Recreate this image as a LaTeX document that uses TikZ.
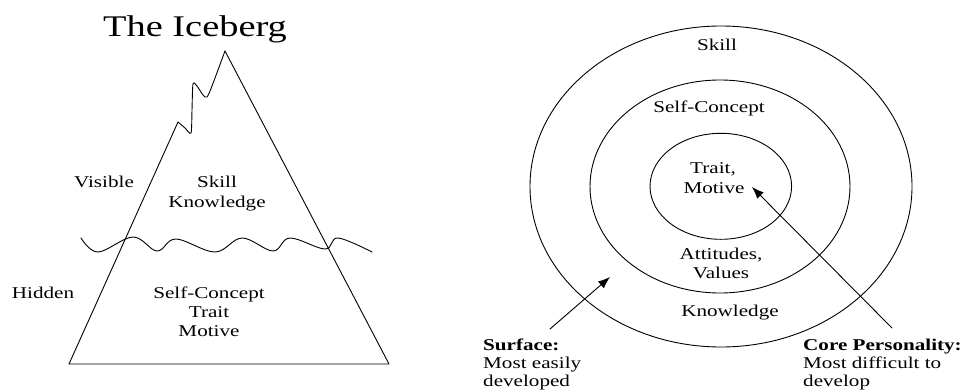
\documentclass[tikz,border=0pt]{standalone}
\usepackage{fontspec}
\setmainfont{Liberation Serif}[FakeStretch=1.28]
\usetikzlibrary{arrows.meta}
\tikzset{
  lbl/.style={inner sep=0pt, anchor=base, font=\fontsize{16.5}{19.8}\selectfont},
  lblL/.style={lbl, anchor=base west},
  lblB/.style={lblL, font=\fontsize{16.5}{19.8}\selectfont\bfseries},
  ttl/.style={inner sep=0pt, anchor=base, font=\fontsize{30}{36}\selectfont},
  ln/.style={line width=0.9pt, line join=round, line cap=round},
  arr/.style={ln, -{Latex[length=12pt,width=9pt]}}
}
\begin{document}
\begin{tikzpicture}[x=1pt,y=-1pt]
\useasboundingbox (0,0) rectangle (969,391);
% ---------- Iceberg ----------
\node[ttl] (title) at (195,36) {The Iceberg};
\draw[ln] (69,364) -- (178,122);
\draw[ln] plot[smooth, tension=0.45] coordinates {(178,122) (185,128) (191,133) (192,110) (193,84) (197,86) (203,95) (207,97) (212,86) (225,51)};
\draw[ln] (225,51) -- (389,364) -- (69,364);
\draw[ln] plot[smooth, tension=0.6] coordinates {(81,238) (98,252) (133,237) (157,251) (176,239) (215,252) (242,238) (273,251) (290,238) (325,249) (338,238) (372,252)};
\node[lbl] (visible) at (104,187) {Visible};
\node[lbl] (skillA) at (217,187) {Skill};
\node[lbl] (knowA) at (217,207) {Knowledge};
\node[lbl] (hidden) at (43,298) {Hidden};
\node[lbl] (selfA) at (209,298) {Self-Concept};
\node[lbl] (traitA) at (209,317) {Trait};
\node[lbl] (motiveA) at (209,336) {Motive};
% ---------- Circles ----------
\draw[ln] (721,186.5) ellipse [x radius=191, y radius=160.5];
\draw[ln] (720,186.5) ellipse [x radius=130, y radius=106.5];
\draw[ln] (720.8,186.3) ellipse [x radius=70.8, y radius=53];
\node[lbl] (skillB) at (717,50) {Skill};
\node[lbl] (selfB) at (709,112) {Self-Concept};
\node[lbl] (traitB) at (713,173) {Trait,};
\node[lbl] (motiveB) at (714,193) {Motive};
\node[lbl] (attB) at (721,259) {Attitudes,};
\node[lbl] (valB) at (721,278) {Values};
\node[lbl] (knowB) at (730,316) {Knowledge};
\node[lblB] (surf) at (483,350) {Surface:};
\node[lblL] (surf2) at (483,368.5) {Most easily};
\node[lblL] (surf3) at (483,386.5) {developed};
\node[lblB] (core) at (803,350) {Core Personality:};
\node[lblL] (core2) at (803,368.5) {Most difficult to};
\node[lblL] (core3) at (803,386.5) {develop};
\coordinate (sfrom) at (550,329);
\coordinate (sto) at (610,277);
\coordinate (cfrom) at (892,328);
\coordinate (cto) at (752,187);
\draw[arr] (sfrom) -- (sto);
\draw[arr] (cfrom) -- (cto);
\end{tikzpicture}
\end{document}
